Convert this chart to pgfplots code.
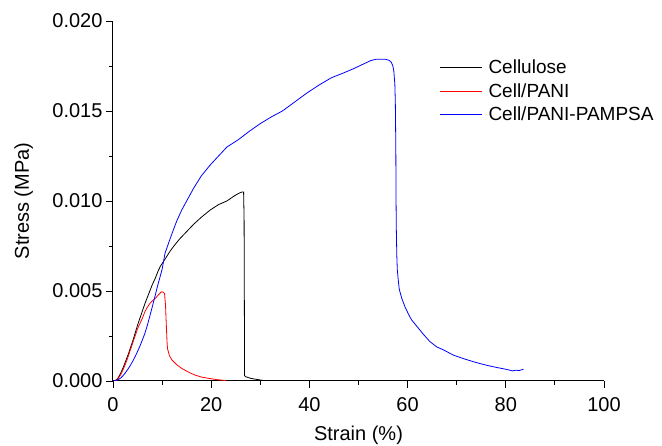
\documentclass[border=0pt]{standalone}
\usepackage{fontspec}
\setmainfont{Liberation Sans}
\usepackage{pgfplots}
\pgfplotsset{compat=1.18}
\begin{document}
\begin{tikzpicture}
\begin{axis}[
  at={(0pt,0pt)}, anchor=south west,
  scale only axis, width=491pt, height=360pt,
  xmin=0, xmax=100, ymin=0, ymax=0.02,
  axis x line*=bottom, axis y line*=left,
  axis line style={-, line width=1pt},
  xtick={0,20,40,60,80,100}, minor xtick={10,30,50,70,90},
  ytick={0,0.005,0.01,0.015,0.02},
  minor ytick={0.0025,0.0075,0.0125,0.0175},
  tick align=outside, major tick length=7pt, minor tick length=4pt,
  tick style={line width=0.9pt, black},
  scaled y ticks=false,
  yticklabel style={/pgf/number format/fixed, /pgf/number format/fixed zerofill,
    /pgf/number format/precision=3},
  xticklabel style={yshift=-6pt},
  /pgf/number format/assume math mode=true,
  tick label style={font=\fontsize{20}{24}\selectfont},
  xlabel={Strain (\%)}, ylabel={Stress (MPa)},
  label style={font=\fontsize{20}{24}\selectfont},
  xlabel style={at={(axis description cs:0.5,0)}, anchor=center, yshift=-54pt},
  ylabel style={at={(axis description cs:-0.182,0.5)}, anchor=center},
  legend cell align=left,
  legend style={at={(rel axis cs:0.665,0.899)}, anchor=north west, draw=none, fill=none,
    font=\fontsize{19}{22.5}\selectfont, inner sep=0pt, row sep=4.5pt},
  legend image code/.code={\draw[#1] (0pt,0pt) -- (42pt,0pt); \path (46pt,0pt);},
  every axis plot/.append style={line width=0.8pt},
]
% Cellulose
\addplot[black] coordinates {
 (0,0) (0.4,0) (1.0,0.00015) (1.5,0.0004) (2.0,0.0007) (2.4,0.00098) (3.0,0.0014)
 (3.5,0.0018) (4.0,0.0022) (4.5,0.00265) (5.0,0.0031) (5.5,0.0035) (6.0,0.0039)
 (6.5,0.0043) (7.0,0.00465) (7.5,0.0050) (8.0,0.00535) (8.6,0.0057) (9.2,0.00612)
 (9.7,0.0064) (10.2,0.0066) (10.9,0.0069) (11.6,0.0072) (12.4,0.0075)
 (13.6,0.0079) (15.0,0.0083) (16.4,0.0087) (18.0,0.0091) (19.8,0.0095)
 (21.5,0.0098) (23.2,0.0100) (24.8,0.0103) (25.8,0.01045) (26.3,0.0105)
 (26.6,0.0105) (26.7,0.009) (26.8,0.0003) (27.0,0.00024) (28,0.00015)
 (29,0.0001) (30.6,0.00003) (31,0)
};
\addlegendentry{Cellulose}
% Cell/PANI
\addplot[red] coordinates {
 (0,0) (0.4,0) (1.0,0.00012) (1.5,0.00032) (2.0,0.0006) (2.4,0.00085) (3.0,0.00128)
 (3.5,0.0017) (4.0,0.0021) (4.5,0.0025) (5.0,0.0029) (5.5,0.0032) (6.0,0.0035)
 (6.5,0.00385) (7.0,0.0041) (7.5,0.0043) (8.0,0.00445) (8.6,0.00459) (9.3,0.0048)
 (9.9,0.00496) (10.3,0.00492) (10.5,0.00485) (10.7,0.0042) (10.8,0.0035)
 (11.0,0.0022) (11.1,0.0018) (11.5,0.0014) (12.0,0.00117) (13.0,0.0009)
 (14.0,0.0007) (15.3,0.0005) (16.7,0.00033) (18.0,0.00022) (19.4,0.00015)
 (21.0,0.00008) (22.8,0.00003) (23,0)
};
\addlegendentry{Cell/PANI}
% Cell/PANI-PAMPSA
\addplot[blue] coordinates {
 (0,0) (0.5,0.00002) (1.0,0.00007) (1.5,0.00015) (2.0,0.00028) (2.5,0.00045)
 (3.0,0.00064) (3.5,0.00085) (4.0,0.00109) (4.5,0.00135) (5.0,0.00164)
 (5.5,0.00195) (6.0,0.00229) (6.5,0.00265) (7.0,0.0031) (7.5,0.0036)
 (8.0,0.00412) (8.5,0.00465) (9.0,0.0052) (9.5,0.0057) (10.0,0.0062)
 (10.6,0.0071) (11.5,0.0078) (12.3,0.0084) (13.0,0.0089) (14.0,0.0095)
 (15.2,0.0101) (16.4,0.0107) (18.0,0.0114) (19.8,0.0120) (21.5,0.0125)
 (23.2,0.0130) (25.5,0.0134) (27.9,0.0139) (30.0,0.0143) (32.3,0.01468)
 (34.5,0.0150) (37.0,0.0155) (39.5,0.0160) (42.0,0.01645) (44.5,0.01685)
 (47.0,0.01712) (49.0,0.01735) (51.0,0.01761) (52.5,0.0178) (53.5,0.01787)
 (54.5,0.01788) (55.5,0.01787) (56.2,0.01782) (56.7,0.0177) (57.0,0.0175)
 (57.2,0.0172) (57.4,0.0165) (57.5,0.0155) (57.6,0.0130) (57.65,0.0100)
 (57.7,0.0085) (57.8,0.0070) (57.9,0.0062) (58.1,0.0056) (58.3,0.0051)
 (58.8,0.0046) (59.5,0.0041) (60.2,0.0037) (60.8,0.0034) (62.0,0.0030)
 (63.2,0.0026) (64.5,0.0022) (65.9,0.0019) (67.5,0.0017) (69.3,0.00144)
 (71.3,0.00125) (73.4,0.00107) (75.0,0.00095) (76.8,0.00083) (78.0,0.00076)
 (79.5,0.00068) (80.5,0.00062) (81.4,0.00056) (82.0,0.0006) (82.7,0.00058)
 (83.6,0.00065)
};
\addlegendentry{Cell/PANI-PAMPSA}
\end{axis}
\pgfresetboundingbox
\path (-113pt,-65pt) rectangle (549pt,381pt);
\end{tikzpicture}
\end{document}
